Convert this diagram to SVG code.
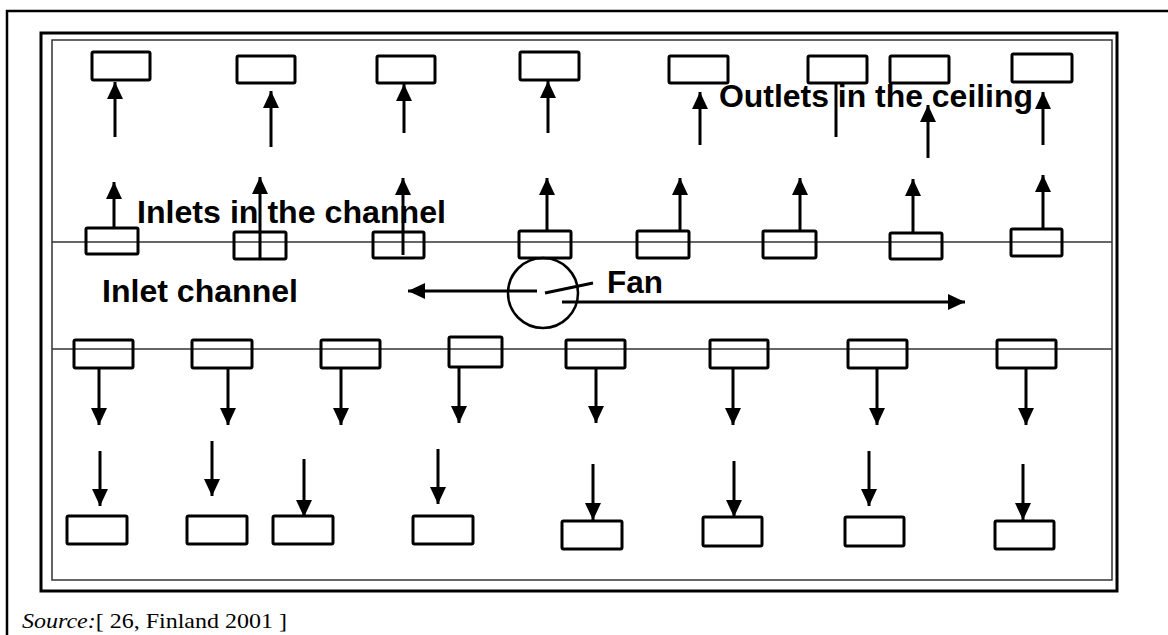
<svg xmlns="http://www.w3.org/2000/svg" width="1168" height="635" viewBox="0 0 1168 635">
<style>
.box{fill:none;stroke:#000;stroke-width:3;}
.arr{stroke:#000;stroke-width:3;fill:none;}
.thin{stroke:#333;stroke-width:1.5;fill:none;}
.lbl{font-family:"Liberation Sans",Arial,sans-serif;font-weight:bold;font-size:31px;fill:#000;}
.src{font-family:"Liberation Serif","Times New Roman",serif;font-size:22px;fill:#000;}
</style>
<defs>
<marker id="ah" markerUnits="userSpaceOnUse" markerWidth="17" markerHeight="16" refX="17" refY="8" orient="auto">
<path d="M0,0 L17,8 L0,16 z" fill="#000"/>
</marker>
</defs>
<rect x="0" y="0" width="1168" height="635" fill="#fff"/>
<g id="frame">
<rect x="7" y="11" width="1170" height="640" fill="none" stroke="#000" stroke-width="2.5"/>
<rect x="41" y="33" width="1076" height="558" fill="none" stroke="#000" stroke-width="3"/>
<rect x="52" y="40" width="1060" height="540" fill="none" stroke="#333" stroke-width="1.5"/>
<line class="thin" x1="52" y1="242" x2="1112" y2="242"/>
<line class="thin" x1="52" y1="349" x2="1112" y2="349"/>
</g>
<g id="ceiling-outlets">
<rect id="out1" class="box" x="92" y="52" width="58" height="28" rx="1.5"/>
<rect id="out2" class="box" x="237" y="56" width="58" height="27" rx="1.5"/>
<rect id="out3" class="box" x="377" y="56" width="58" height="27" rx="1.5"/>
<rect id="out4" class="box" x="520" y="52" width="59" height="28" rx="1.5"/>
<rect id="out5" class="box" x="669" y="56" width="59" height="27" rx="1.5"/>
<rect id="out6" class="box" x="808" y="56" width="59" height="27" rx="1.5"/>
<rect id="out7" class="box" x="890" y="56" width="59" height="27" rx="1.5"/>
<rect id="out8" class="box" x="1012" y="54" width="60" height="28" rx="1.5"/>
</g>
<g id="channel-inlets">
<rect id="in1" class="box" x="86" y="228" width="52" height="26" rx="1.5"/>
<rect id="in2" class="box" x="234" y="232" width="52" height="27" rx="1.5"/>
<rect id="in3" class="box" x="373" y="232" width="51" height="26" rx="1.5"/>
<rect id="in4" class="box" x="519" y="231" width="52" height="27" rx="1.5"/>
<rect id="in5" class="box" x="637" y="231" width="52" height="27" rx="1.5"/>
<rect id="in6" class="box" x="763" y="231" width="53" height="27" rx="1.5"/>
<rect id="in7" class="box" x="890" y="233" width="52" height="26" rx="1.5"/>
<rect id="in8" class="box" x="1011" y="229" width="51" height="27" rx="1.5"/>
</g>
<g id="channel-outlets">
<rect id="co1" class="box" x="74" y="340" width="59" height="28" rx="1.5"/>
<rect id="co2" class="box" x="192" y="340" width="60" height="28" rx="1.5"/>
<rect id="co3" class="box" x="321" y="340" width="59" height="28" rx="1.5"/>
<rect id="co4" class="box" x="449" y="337" width="53" height="30" rx="1.5"/>
<rect id="co5" class="box" x="566" y="340" width="59" height="28" rx="1.5"/>
<rect id="co6" class="box" x="710" y="340" width="58" height="28" rx="1.5"/>
<rect id="co7" class="box" x="848" y="340" width="59" height="28" rx="1.5"/>
<rect id="co8" class="box" x="997" y="340" width="59" height="28" rx="1.5"/>
</g>
<g id="floor-boxes">
<rect id="fl1" class="box" x="67" y="516" width="60" height="28" rx="1.5"/>
<rect id="fl2" class="box" x="187" y="516" width="60" height="28" rx="1.5"/>
<rect id="fl3" class="box" x="273" y="516" width="60" height="28" rx="1.5"/>
<rect id="fl4" class="box" x="413" y="516" width="60" height="28" rx="1.5"/>
<rect id="fl5" class="box" x="562" y="521" width="60" height="28" rx="1.5"/>
<rect id="fl6" class="box" x="703" y="517" width="59" height="29" rx="1.5"/>
<rect id="fl7" class="box" x="845" y="517" width="59" height="29" rx="1.5"/>
<rect id="fl8" class="box" x="995" y="521" width="59" height="28" rx="1.5"/>
</g>
<g id="fan">
<circle cx="543" cy="293" r="35" fill="none" stroke="#000" stroke-width="2.5"/>
</g>
<g id="connectors">
<line class="arr" x1="115" y1="137" x2="115" y2="82" marker-end="url(#ah)"/>
<line class="arr" x1="271" y1="147" x2="271" y2="91" marker-end="url(#ah)"/>
<line class="arr" x1="404" y1="133" x2="404" y2="84" marker-end="url(#ah)"/>
<line class="arr" x1="548" y1="133" x2="548" y2="81" marker-end="url(#ah)"/>
<line class="arr" x1="700" y1="145" x2="700" y2="92" marker-end="url(#ah)"/>
<line class="arr" x1="836" y1="83" x2="836" y2="137"/>
<line class="arr" x1="928" y1="158" x2="928" y2="105" marker-end="url(#ah)"/>
<line class="arr" x1="1043" y1="145" x2="1043" y2="92" marker-end="url(#ah)"/>
<line class="arr" x1="114" y1="228" x2="114" y2="182" marker-end="url(#ah)"/>
<line class="arr" x1="260" y1="258" x2="260" y2="177" marker-end="url(#ah)"/>
<line class="arr" x1="403" y1="255" x2="403" y2="178" marker-end="url(#ah)"/>
<line class="arr" x1="547" y1="231" x2="547" y2="178" marker-end="url(#ah)"/>
<line class="arr" x1="680" y1="231" x2="680" y2="178" marker-end="url(#ah)"/>
<line class="arr" x1="800" y1="231" x2="800" y2="178" marker-end="url(#ah)"/>
<line class="arr" x1="913" y1="233" x2="913" y2="179" marker-end="url(#ah)"/>
<line class="arr" x1="1043" y1="229" x2="1043" y2="175" marker-end="url(#ah)"/>
<line class="arr" x1="99" y1="368" x2="99" y2="425" marker-end="url(#ah)"/>
<line class="arr" x1="228" y1="368" x2="228" y2="425" marker-end="url(#ah)"/>
<line class="arr" x1="341" y1="368" x2="341" y2="425" marker-end="url(#ah)"/>
<line class="arr" x1="459" y1="367" x2="459" y2="423" marker-end="url(#ah)"/>
<line class="arr" x1="596" y1="368" x2="596" y2="423" marker-end="url(#ah)"/>
<line class="arr" x1="733" y1="368" x2="733" y2="425" marker-end="url(#ah)"/>
<line class="arr" x1="877" y1="368" x2="877" y2="425" marker-end="url(#ah)"/>
<line class="arr" x1="1026" y1="368" x2="1026" y2="425" marker-end="url(#ah)"/>
<line class="arr" x1="100" y1="451" x2="100" y2="506" marker-end="url(#ah)"/>
<line class="arr" x1="212" y1="441" x2="212" y2="496" marker-end="url(#ah)"/>
<line class="arr" x1="304" y1="459" x2="304" y2="517" marker-end="url(#ah)"/>
<line class="arr" x1="438" y1="449" x2="438" y2="504" marker-end="url(#ah)"/>
<line class="arr" x1="593" y1="464" x2="593" y2="520" marker-end="url(#ah)"/>
<line class="arr" x1="734" y1="461" x2="734" y2="517" marker-end="url(#ah)"/>
<line class="arr" x1="869" y1="451" x2="869" y2="506" marker-end="url(#ah)"/>
<line class="arr" x1="1023" y1="464" x2="1023" y2="520" marker-end="url(#ah)"/>
<line class="arr" x1="537" y1="291" x2="408" y2="291" marker-end="url(#ah)"/>
<line class="arr" x1="562" y1="302" x2="965" y2="302" marker-end="url(#ah)"/>
<line class="arr" stroke-width="2.5" x1="545" y1="293" x2="593" y2="283"/>
</g>
<g id="labels">
<text class="lbl" x="137" y="223" textLength="309" lengthAdjust="spacingAndGlyphs">Inlets in the channel</text>
<text class="lbl" x="719" y="107" textLength="314" lengthAdjust="spacingAndGlyphs">Outlets in the ceiling</text>
<text class="lbl" x="102" y="302" textLength="196" lengthAdjust="spacingAndGlyphs">Inlet channel</text>
<text class="lbl" x="607" y="293" textLength="56" lengthAdjust="spacingAndGlyphs">Fan</text>
<text class="src" x="22" y="628" textLength="265" lengthAdjust="spacingAndGlyphs"><tspan font-style="italic">Source:</tspan>[ 26, Finland 2001 ]</text>
</g>
</svg>
